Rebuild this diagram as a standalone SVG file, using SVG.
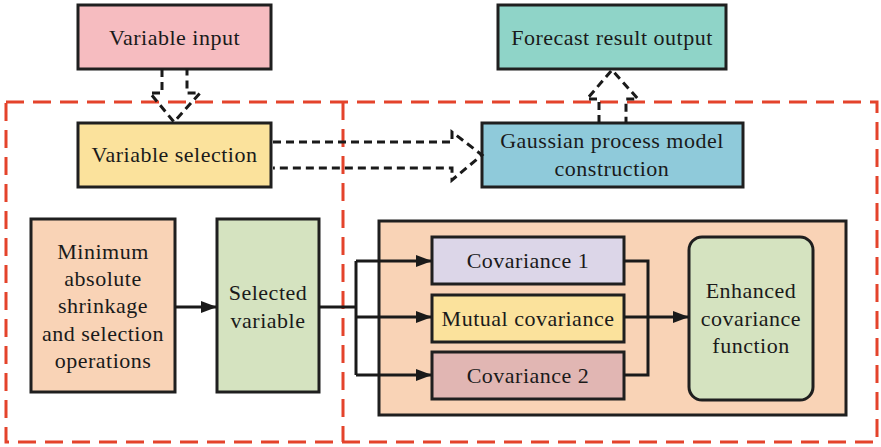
<svg xmlns="http://www.w3.org/2000/svg" width="881" height="447" viewBox="0 0 881 447">
<defs>
<style>
.box{stroke:#1f1f1f;stroke-width:3}
.t{font-family:"Liberation Serif","Times New Roman",serif;font-size:22px;letter-spacing:0.5px;fill:#1a1a1a;text-anchor:middle}
.red{fill:none;stroke:#e4432b;stroke-width:3;stroke-dasharray:18 9}
.hd{fill:none;stroke:#1a1a1a;stroke-width:3;stroke-dasharray:8 5;stroke-linejoin:miter}
.ln{fill:none;stroke:#1a1a1a;stroke-width:3}
</style>
<marker id="ah2" markerWidth="16" markerHeight="12" refX="15" refY="6" orient="auto" markerUnits="userSpaceOnUse" viewBox="0 0 16 12">
<path d="M0,0 L16,6 L0,12 z" fill="#1a1a1a"/>
</marker>
</defs>
<rect width="881" height="447" fill="#ffffff"/>
<g id="regions">
<rect class="red" x="6" y="102" width="871" height="340"/>
<line class="red" x1="343" y1="102" x2="343" y2="442"/>
</g>
<g id="n-input"><rect class="box" x="78" y="5" width="193" height="64" fill="#f6bcc0"/><text class="t" x="174.5" y="45">Variable input</text></g>
<g id="n-forecast"><rect class="box" x="498" y="5" width="228" height="64" fill="#8fd4c8"/><text class="t" x="612" y="45">Forecast result output</text></g>
<g id="n-selection"><rect class="box" x="78" y="123" width="193" height="64" fill="#fbe29c"/><text class="t" x="174.5" y="162">Variable selection</text></g>
<g id="n-gauss"><rect class="box" x="482" y="123" width="261" height="64" fill="#8fcada"/><text class="t" x="612" y="148">Gaussian process model</text><text class="t" x="612" y="176">construction</text></g>
<g id="n-container"><rect class="box" x="379" y="221" width="467" height="194" fill="#f9d3b6"/></g>
<g id="n-lasso"><rect class="box" x="31" y="219" width="144" height="173" fill="#f9d3b6"/>
<text class="t" x="103" y="259">Minimum</text><text class="t" x="103" y="286">absolute</text><text class="t" x="103" y="313">shrinkage</text><text class="t" x="103" y="341">and selection</text><text class="t" x="103" y="368">operations</text></g>
<g id="n-selected"><rect class="box" x="217" y="219" width="102" height="173" fill="#d5e3c0"/><text class="t" x="268" y="300">Selected</text><text class="t" x="268" y="328">variable</text></g>
<g id="n-cov1"><rect class="box" x="432" y="237" width="192" height="47" fill="#dcd6e8"/><text class="t" x="528" y="268">Covariance 1</text></g>
<g id="n-mutual"><rect class="box" x="432" y="295" width="192" height="47" fill="#fbe29c"/><text class="t" x="528" y="326">Mutual covariance</text></g>
<g id="n-cov2"><rect class="box" x="432" y="352" width="192" height="47" fill="#e1b6b3"/><text class="t" x="528" y="383">Covariance 2</text></g>
<g id="n-enhanced"><rect class="box" x="689" y="237" width="124" height="163" rx="13" fill="#d5e3c0"/><text class="t" x="751" y="298">Enhanced</text><text class="t" x="751" y="326">covariance</text><text class="t" x="751" y="353">function</text></g>
<g id="connectors">
<polyline class="hd" points="162,69 162,93 150,93 174,122 200,93 187,93 187,69"/>
<polyline class="hd" points="599,123 599,99 587,99 612,70 638,99 626,99 626,123"/>
<polyline class="hd" points="273,142 452,142 452,132 482,155 452,180 452,168 273,168"/>
<line class="ln" x1="175" y1="307" x2="216" y2="307" marker-end="url(#ah2)"/>
<polyline class="ln" points="319,307 356,307"/>
<line class="ln" x1="356" y1="261" x2="356" y2="375"/>
<line class="ln" x1="356" y1="261" x2="431" y2="261" marker-end="url(#ah2)"/>
<line class="ln" x1="356" y1="317" x2="431" y2="317" marker-end="url(#ah2)"/>
<line class="ln" x1="356" y1="375" x2="431" y2="375" marker-end="url(#ah2)"/>
<polyline class="ln" points="624,261 648,261 648,375 624,375"/>
<line class="ln" x1="624" y1="317" x2="688" y2="317" marker-end="url(#ah2)"/>
</g>
</svg>
